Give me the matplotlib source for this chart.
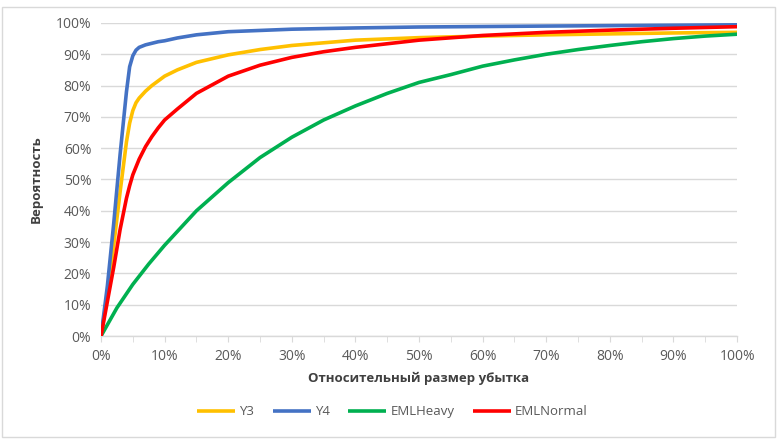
import matplotlib
matplotlib.use("Agg")
import matplotlib.pyplot as plt
from matplotlib.patches import Rectangle
from matplotlib.ticker import PercentFormatter, MultipleLocator

plt.rcParams['font.family'] = ['Open Sans', 'DejaVu Sans']

# Данные (доли)
y3_x = [0, 0.01, 0.02, 0.03, 0.04, 0.045, 0.05, 0.055, 0.06, 0.07, 0.08, 0.10, 0.12, 0.15,
        0.20, 0.25, 0.30, 0.40, 0.50, 0.60, 0.70, 0.80, 0.90, 1.00]
y3_y = [0, 0.13, 0.29, 0.46, 0.62, 0.68, 0.72, 0.745, 0.76, 0.782, 0.80, 0.83, 0.85, 0.874,
        0.898, 0.915, 0.928, 0.945, 0.953, 0.958, 0.962, 0.965, 0.968, 0.970]

y4_x = [0, 0.01, 0.02, 0.03, 0.04, 0.045, 0.05, 0.055, 0.06, 0.07, 0.08, 0.09, 0.10, 0.12,
        0.15, 0.20, 0.30, 0.40, 0.50, 0.70, 1.00]
y4_y = [0, 0.16, 0.36, 0.58, 0.78, 0.86, 0.895, 0.913, 0.922, 0.93, 0.935, 0.94, 0.943, 0.952,
        0.962, 0.972, 0.980, 0.984, 0.987, 0.990, 0.994]

heavy_x = [0, 0.025, 0.05, 0.075, 0.10, 0.15, 0.20, 0.25, 0.30, 0.35, 0.40, 0.45, 0.50, 0.55,
           0.60, 0.65, 0.70, 0.75, 0.80, 0.85, 0.90, 0.95, 1.00]
heavy_y = [0, 0.09, 0.165, 0.23, 0.29, 0.40, 0.49, 0.57, 0.635, 0.69, 0.735, 0.775, 0.81, 0.835,
           0.862, 0.882, 0.90, 0.915, 0.928, 0.94, 0.95, 0.958, 0.964]

normal_x = [0, 0.01, 0.02, 0.03, 0.04, 0.045, 0.05, 0.06, 0.07, 0.08, 0.09, 0.10, 0.12, 0.15,
            0.20, 0.25, 0.30, 0.35, 0.40, 0.50, 0.60, 0.70, 0.80, 0.90, 1.00]
normal_y = [0, 0.11, 0.22, 0.34, 0.44, 0.48, 0.515, 0.565, 0.605, 0.637, 0.665, 0.69, 0.725,
            0.775, 0.83, 0.865, 0.89, 0.908, 0.922, 0.945, 0.96, 0.97, 0.977, 0.983, 0.988]

series = [
    ('Y3', y3_x, y3_y, '#FFC000'),
    ('Y4', y4_x, y4_y, '#4472C4'),
    ('EMLHeavy', heavy_x, heavy_y, '#00B050'),
    ('EMLNormal', normal_x, normal_y, '#FF0000'),
]

fig = plt.figure(figsize=(7.8, 4.41), dpi=100)
ax = fig.add_axes([0.1295, 0.238, 0.8155, 0.71])

for name, xs, ys, color in series:
    ax.plot(xs, ys, color=color, linewidth=2.6, label=name,
            solid_capstyle='butt', solid_joinstyle='round', zorder=3)

ax.set_xlim(0, 1)
ax.set_ylim(0, 1)
ax.xaxis.set_major_locator(MultipleLocator(0.1))
ax.xaxis.set_minor_locator(MultipleLocator(0.05))
ax.yaxis.set_major_locator(MultipleLocator(0.1))
ax.xaxis.set_major_formatter(PercentFormatter(1.0, decimals=0))
ax.yaxis.set_major_formatter(PercentFormatter(1.0, decimals=0))

ax.grid(axis='y', color='#d9d9d9', linewidth=1, zorder=1)
for side in ['top', 'right', 'left']:
    ax.spines[side].set_visible(False)
ax.spines['bottom'].set_color('#d9d9d9')
ax.spines['bottom'].set_linewidth(1)

ax.tick_params(axis='x', which='both', direction='out', length=4, color='#d9d9d9',
               labelsize=10, labelcolor='#595959', pad=5)
ax.tick_params(axis='y', length=0, labelsize=10, labelcolor='#595959', pad=7)

ax.set_xlabel('Относительный размер убытка', fontsize=9.5, fontweight='bold',
              color='#404040', labelpad=6)
ax.set_ylabel('Вероятность', fontsize=9.5, fontweight='bold', color='#404040', labelpad=9)

fig.legend(loc='center', bbox_to_anchor=(0.503, 0.066), ncol=4, frameon=False,
           fontsize=9.5, handlelength=2.9, columnspacing=1.4, handletextpad=0.3,
           labelcolor='#595959')

fig.patches.append(Rectangle((2 / 780, 4 / 441), 773 / 780, 430 / 441,
                             transform=fig.transFigure, fill=False,
                             edgecolor='#d9d9d9', linewidth=1))

fig.savefig('out.png', dpi=100)
